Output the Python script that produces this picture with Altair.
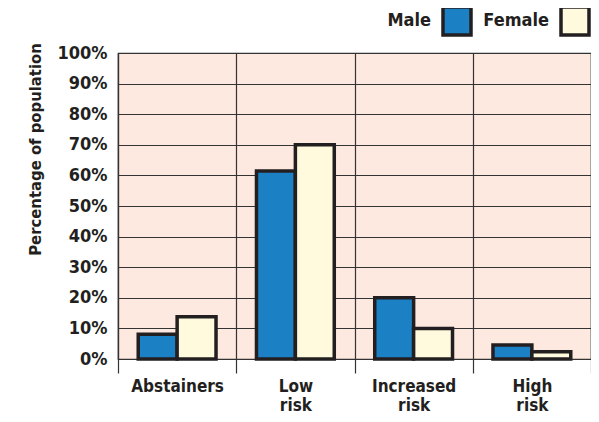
import altair as alt
import pandas as pd

categories = ["Abstainers", "Low risk", "Increased risk", "High risk"]
male = [8.1, 61.4, 20.0, 4.6]
female = [13.8, 70.0, 10.0, 2.4]
genders = ["Male", "Female"]
colors = ["#1b80c4", "#fffadd"]

rows = []
for c, m, f in zip(categories, male, female):
    rows.append({"category": c, "gender": "Male", "value": m})
    rows.append({"category": c, "gender": "Female", "value": f})
df = pd.DataFrame(rows)

FONT = "Liberation Sans Narrow, DejaVu Sans Condensed, sans-serif"
DARK = "#231f20"

chart = alt.Chart(df).mark_bar(stroke=DARK, strokeWidth=3.5).encode(
    x=alt.X("category:N", sort=categories,
            scale=alt.Scale(paddingInner=0, paddingOuter=0),
            axis=alt.Axis(title=None, labelAngle=0, tickBand="extent",
                          labelExpr="split(datum.label, ' ')",
                          labelFont=FONT, labelFontWeight="bold", labelFontSize=17,
                          labelColor=DARK, labelLineHeight=19, labelPadding=5,
                          tickSize=14, tickColor="#333333", tickWidth=1.2,
                          domain=False, grid=True, gridColor="#333333", gridWidth=1.2,
                          gridOpacity=1)),
    xOffset=alt.XOffset("gender:N", sort=genders,
                        scale=alt.Scale(paddingInner=0, paddingOuter=0.52)),
    y=alt.Y("value:Q", scale=alt.Scale(domain=[0, 100], nice=False),
            axis=alt.Axis(values=list(range(0, 101, 10)),
                          labelExpr="datum.value + '%'",
                          labelFont=FONT, labelFontWeight="bold", labelFontSize=18,
                          labelColor=DARK, labelPadding=11, ticks=False,
                          domain=True, domainColor="#333333", domainWidth=1.2,
                          grid=True, gridColor="#333333", gridWidth=1.2, gridOpacity=1,
                          title="Percentage of population",
                          titleFont=FONT, titleFontWeight="bold", titleFontSize=16.5,
                          titleColor=DARK, titleAngle=270, titleX=-83, titleY=96,
                          titleAlign="center", titleBaseline="middle")),
    color=alt.Color("gender:N", sort=genders,
                    scale=alt.Scale(domain=genders, range=colors),
                    legend=alt.Legend(title=None, orient="none", direction="horizontal",
                                      legendX=323, legendY=-48,
                                      symbolType="square", symbolSize=784,
                                      symbolStrokeColor=DARK, symbolStrokeWidth=3.5,
                                      symbolOpacity=1,
                                      labelAlign="right", labelOffset={"expr": "-42"},
                                      labelFont=FONT, labelFontWeight="bold",
                                      labelFontSize=18, labelColor=DARK,
                                      columnPadding=5)),
).properties(
    width=473, height=306,
    autosize=alt.AutoSizeParams(type="none"),
    padding={"left": 110, "top": 45, "right": 0, "bottom": 55},
).configure_view(
    fill="#fde9e0", stroke="#333333", strokeWidth=1.2
)

chart.save("out.html", embed_options={"renderer": "svg", "actions": False})
